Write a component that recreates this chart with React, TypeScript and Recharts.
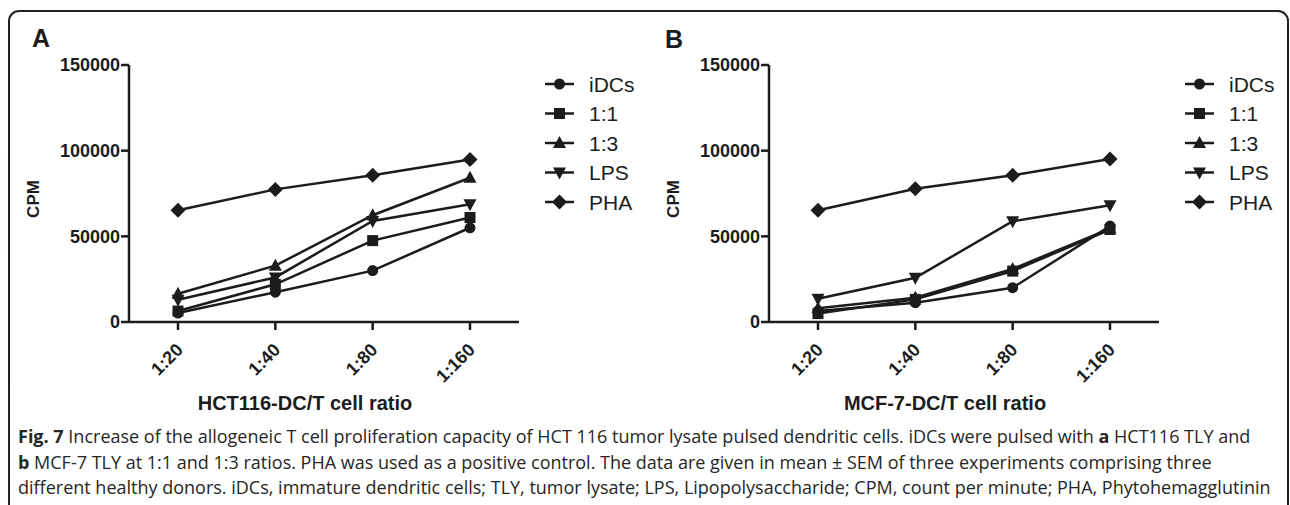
import React from 'react';
import { LineChart, Line, XAxis, YAxis, Legend } from 'recharts';

// ---------- data ----------
const categories = ['1:20', '1:40', '1:80', '1:160'];
const yTicks = [0, 50000, 100000, 150000];

// Panel A: HCT116
const iDCsA = [5200, 17400, 30000, 55000];
const r11A = [6400, 22000, 47500, 61000];
const r13A = [16500, 32900, 62300, 84200];
const lpsA = [13000, 26000, 59000, 68700];
const phaA = [65200, 77400, 85700, 94800];

// Panel B: MCF-7
const iDCsB = [6400, 11300, 20000, 56000];
const r11B = [4900, 13200, 29700, 54000];
const r13B = [8000, 14200, 31000, 54500];
const lpsB = [13600, 25800, 58800, 68100];
const phaB = [65200, 77800, 85600, 95100];

const seriesNames = ['iDCs', '1:1', '1:3', 'LPS', 'PHA'];
const seriesKeys = ['iDCs', 'r11', 'r13', 'lps', 'pha'];
const seriesShapes = ['circle', 'square', 'triangle', 'down', 'diamond'];

const buildData = (cols: number[][]) =>
  categories.map((c, i) => {
    const row: any = { ratio: c };
    seriesKeys.forEach((k, j) => (row[k] = cols[j][i]));
    return row;
  });

const dataA = buildData([iDCsA, r11A, r13A, lpsA, phaA]);
const dataB = buildData([iDCsB, r11B, r13B, lpsB, phaB]);

// ---------- style ----------
const INK = '#1c1c1c';
const FONT = '"Liberation Sans", Arial, sans-serif';
const CAPFONT = '"Open Sans", "Noto Sans", sans-serif';

const shapeByKey: Record<string, string> = {};
seriesKeys.forEach((k, i) => (shapeByKey[k] = seriesShapes[i]));

const Marker = ({ cx, cy, shape }: { cx: number; cy: number; shape: string }) => {
  if (cx == null || cy == null) return null;
  switch (shape) {
    case 'circle':
      return <circle cx={cx} cy={cy} r={5.5} fill={INK} />;
    case 'square':
      return <rect x={cx - 5.5} y={cy - 5.5} width={11} height={11} fill={INK} />;
    case 'triangle':
      return <path d={`M${cx},${cy - 7} L${cx + 6.5},${cy + 5} L${cx - 6.5},${cy + 5} Z`} fill={INK} />;
    case 'down':
      return <path d={`M${cx},${cy + 7} L${cx + 6.5},${cy - 5} L${cx - 6.5},${cy - 5} Z`} fill={INK} />;
    default:
      return <path d={`M${cx},${cy - 7.5} L${cx + 7.5},${cy} L${cx},${cy + 7.5} L${cx - 7.5},${cy} Z`} fill={INK} />;
  }
};

const XTick = (p: any) => {
  const { x, y, payload } = p;
  const tx = x + 6;
  const ty = y + 19;
  return (
    <text
      x={tx}
      y={ty}
      textAnchor="end"
      fontSize={18}
      fontWeight={700}
      fontFamily={FONT}
      fill={INK}
      transform={`rotate(-45, ${tx}, ${ty})`}
    >
      {payload.value}
    </text>
  );
};

const renderLegend = (props: any) => {
  const payload = [...(props.payload || [])].sort(
    (a: any, b: any) => seriesKeys.indexOf(a.dataKey) - seriesKeys.indexOf(b.dataKey)
  );
  return (
    <svg width={100} height={150} style={{ overflow: 'visible', display: 'block' }}>
      {payload.map((entry: any, i: number) => {
        const cy = 16 + i * 29.5;
        const shape = shapeByKey[entry.dataKey] || 'circle';
        return (
          <g key={`leg-${i}`}>
            <line x1={5} x2={34} y1={cy} y2={cy} stroke={INK} strokeWidth={2.5} />
            <Marker shape={shape} cx={19.5} cy={cy} />
            <text x={49} y={cy + 7.5} fontSize={21} fontFamily={FONT} fill={INK}>
              {entry.value}
            </text>
          </g>
        );
      })}
    </svg>
  );
};

const Panel = ({ data, xTitle }: { data: any[]; xTitle: string }) => (
  <LineChart
    width={640}
    height={430}
    data={data}
    margin={{ top: 65, left: 69, right: 21, bottom: 13 }}
  >
    <XAxis
      dataKey="ratio"
      interval={0}
      padding={{ left: 49, right: 49 }}
      height={95}
      tickSize={8}
      axisLine={{ stroke: INK, strokeWidth: 2.5 }}
      tickLine={{ stroke: INK, strokeWidth: 2.5 }}
      tick={(p: any) => <XTick key={`xt-${p.index}`} {...p} />}
      label={{
        content: (p: any) => {
          const vb = p.viewBox;
          if (!vb) return null;
          return (
            <text x={vb.x + 176} y={vb.y + 88} textAnchor="middle" fontSize={20} fontWeight={700} fontFamily={FONT} fill={INK}>
              {xTitle}
            </text>
          );
        },
      }}
    />
    <YAxis
      width={60}
      domain={[0, 150000]}
      ticks={yTicks}
      interval={0}
      tickSize={8}
      tickMargin={1}
      axisLine={{ stroke: INK, strokeWidth: 2.5 }}
      tickLine={{ stroke: INK, strokeWidth: 2.5 }}
      tick={{ fontSize: 18, fontWeight: 700, fill: INK, fontFamily: FONT }}
      label={{
        content: (p: any) => {
          const vb = p.viewBox;
          if (!vb) return null;
          const lx = vb.x - 30;
          const ly = vb.y + 134;
          return (
            <text x={lx} y={ly} textAnchor="middle" fontSize={17} fontWeight={700} fontFamily={FONT} fill={INK} transform={`rotate(-90, ${lx}, ${ly})`}>
              CPM
            </text>
          );
        },
      }}
    />
    <Legend
      layout="vertical"
      align="right"
      verticalAlign="top"
      content={renderLegend}
      wrapperStyle={{ left: 540, top: 68, width: 100, height: 150, right: 'auto' }}
    />
    {seriesKeys.map((k, i) => (
      <Line
        key={k}
        dataKey={k}
        name={seriesNames[i]}
        stroke={INK}
        strokeWidth={2.5}
        isAnimationActive={false}
        activeDot={false}
        dot={(p: any) => <Marker key={`${k}-${p.index}`} cx={p.cx} cy={p.cy} shape={seriesShapes[i]} />}
      />
    ))}
  </LineChart>
);

const capStart = 18;
const capStyle = { fontSize: 18, fontFamily: CAPFONT, fill: '#262626' } as const;

export default function App() {
  return (
    <div style={{ position: 'absolute', left: 0, top: 0, width: 1290, height: 505, overflow: 'hidden', background: '#fff' }}>
      <svg width={1290} height={505} style={{ position: 'absolute', left: 0, top: 0 }}>
        <rect x={9} y={11} width={1279} height={600} rx={10} ry={10} fill="none" stroke="#222" strokeWidth={2} />
        <text x={32} y={47} fontSize={25} fontWeight={700} fontFamily={FONT} fill={INK}>A</text>
        <text x={665} y={48} fontSize={25} fontWeight={700} fontFamily={FONT} fill={INK}>B</text>
        <text x={capStart} y={443} {...capStyle}>
          <tspan fontWeight={700}>Fig. 7</tspan> Increase of the allogeneic T cell proliferation capacity of HCT 116 tumor lysate pulsed dendritic cells. iDCs were pulsed with <tspan fontWeight={700}>a</tspan> HCT116 TLY and
        </text>
        <text x={capStart} y={469} {...capStyle}>
          <tspan fontWeight={700}>b</tspan> MCF-7 TLY at 1:1 and 1:3 ratios. PHA was used as a positive control. The data are given in mean ± SEM of three experiments comprising three
        </text>
        <text x={capStart} y={494} {...capStyle}>
          different healthy donors. iDCs, immature dendritic cells; TLY, tumor lysate; LPS, Lipopolysaccharide; CPM, count per minute; PHA, Phytohemagglutinin
        </text>
      </svg>
      <div style={{ position: 'absolute', left: 0, top: 0 }}>
        <Panel data={dataA} xTitle="HCT116-DC/T cell ratio" />
      </div>
      <div style={{ position: 'absolute', left: 640, top: 0 }}>
        <Panel data={dataB} xTitle="MCF-7-DC/T cell ratio" />
      </div>
    </div>
  );
}
